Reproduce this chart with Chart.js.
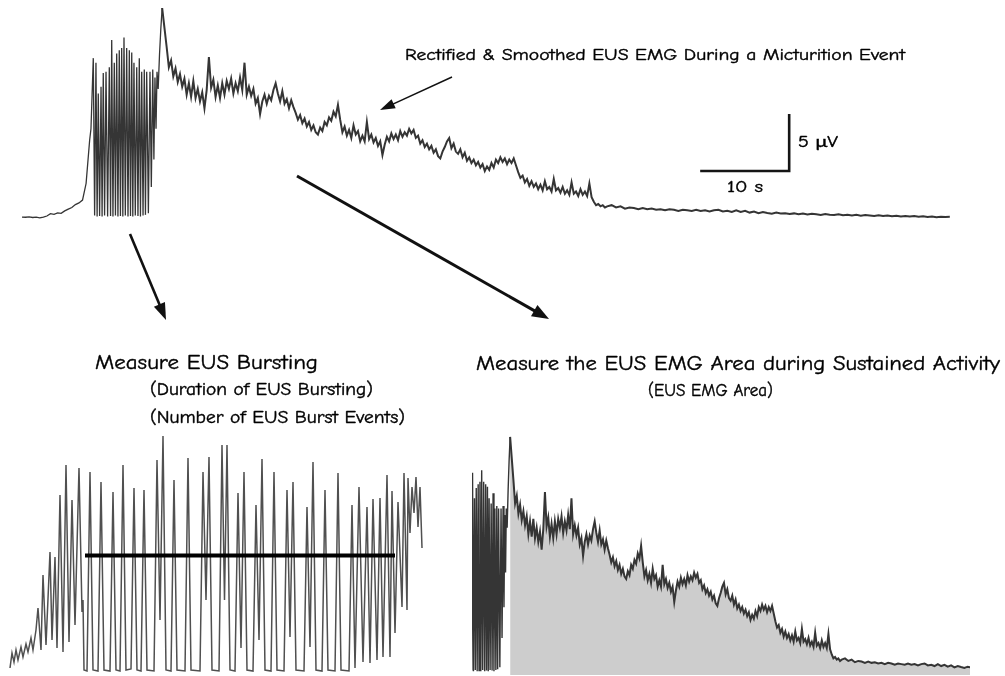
<!DOCTYPE html>
<html>
<head>
<meta charset="utf-8">
<title>EUS EMG during a micturition event</title>
<script src="https://cdn.jsdelivr.net/npm/chart.js@4/dist/chart.umd.min.js"></script>
<style>
  html, body { margin: 0; padding: 0; background: #ffffff; }
  #stage { position: relative; width: 1005px; height: 676px; overflow: hidden; background: #ffffff; }
  #stage canvas, #stage svg { position: absolute; left: 0; top: 0; }
  .lbl {
    position: absolute; white-space: nowrap; line-height: 1; color: #000;
    font-family: "Comic Sans MS", "Comic Neue", "Lato", sans-serif;
    -webkit-text-stroke: 0.4px #000;
    transform-origin: left center;
  }
</style>
</head>
<body>
<div id="stage">
  <canvas id="topTrace" width="1005" height="676"></canvas>
  <canvas id="burstTrace" width="1005" height="676"></canvas>
  <canvas id="areaTrace" width="1005" height="676"></canvas>
  <svg id="arrows" width="1005" height="676"></svg>
</div>
<script>
// ---- Rectified & smoothed EUS EMG, whole micturition event (time in s, amplitude in µV) ----

// quiet baseline and onset, sampled every 0.4 s from t = 0
const onsetStart = 0;
const onsetStep = 0.4;
const onsetUv = [0.26, 0.24, 0.28, 0.22, 0.25, 0.18, 0.26, 0.35, 0.55, 0.5,
                 0.62, 0.58, 0.8, 0.95, 1.1, 1.35, 1.5, 1.75, 3.2, 7.0];

// bursting phase: alternating burst peaks and inter-burst troughs
const burstTimes = [7.75, 8.01, 8.16, 8.31, 8.44, 8.57, 8.72, 8.88, 9.00, 9.13,
                    9.28, 9.44, 9.62, 9.81, 9.95, 10.08, 10.22, 10.37, 10.50, 10.64,
                    10.78, 10.93, 11.06, 11.20, 11.33, 11.46, 11.61, 11.76, 11.91, 12.06,
                    12.19, 12.33, 12.45, 12.58, 12.73, 12.89, 13.03, 13.18, 13.31, 13.45,
                    13.60, 13.74, 13.87, 14.01, 14.20, 14.38, 14.53, 14.69, 14.82, 14.94,
                    15.06, 15.17, 15.30, 15.45, 15.60];
const burstUv = [8.0, 14.2, 0.4, 13.8, 0.3, 11.1, 0.35, 11.7, 0.3, 12.9,
                 0.4, 13.0, 0.3, 13.4, 0.35, 15.8, 0.3, 13.8, 0.4, 14.6,
                 0.3, 14.9, 0.35, 15.1, 0.3, 16.0, 0.4, 15.1, 0.3, 14.9,
                 0.35, 14.7, 0.3, 13.8, 0.4, 13.4, 0.35, 14.2, 0.3, 13.0,
                 0.4, 13.2, 0.45, 13.0, 0.6, 13.0, 2.9, 13.2, 5.3, 12.5,
                 8.0, 13.0, 11.5, 14.5, 16.8];

// sustained activity after the bursting phase, sampled every 0.25 s
const sustainedStart = 15.75;
const sustainedStep = 0.25;
const sustainedUv = [
  18.6, 16.9, 15.2, 13.4, 14.0, 12.6, 13.3, 12.1, 12.8, 11.7,
  12.4, 11.0, 12.0, 10.8, 12.2, 10.7, 11.5, 10.4, 11.2, 9.8,
  11.4, 14.3, 11.6, 12.3, 10.8, 11.8, 10.7, 12.0, 11.0, 12.2,
  11.5, 12.4, 11.1, 12.0, 11.3, 12.5, 11.4, 13.8, 11.0, 11.7,
  10.9, 11.5, 10.2, 10.7, 9.3, 10.4, 11.0, 10.2, 10.9, 10.5,
  11.4, 12.0, 11.1, 10.4, 11.3, 10.2, 10.6, 9.8, 10.5, 9.9,
  9.4, 8.8, 9.2, 8.5, 8.9, 8.2, 8.6, 7.9, 8.3, 7.7,
  7.5, 8.1, 7.8, 8.6, 8.3, 9.0, 8.7, 9.5, 9.1, 10.1,
  8.8, 7.7, 8.2, 7.4, 7.9, 7.2, 8.3, 7.5, 7.8, 6.9,
  7.4, 6.9, 8.6, 7.1, 7.5, 6.8, 7.2, 6.5, 6.9, 5.7,
  6.6, 7.3, 6.9, 7.6, 7.1, 7.5, 7.0, 7.8, 7.3, 7.7,
  7.4, 8.0, 7.6, 7.9, 7.2, 7.4, 6.7, 7.0, 6.4, 6.7,
  6.2, 6.5, 5.9, 6.2, 5.6, 5.4, 6.0, 6.4, 6.9, 7.2,
  6.3, 6.7, 6.0, 5.8, 6.2, 5.5, 5.9, 5.2, 5.5, 5.0,
  5.3, 4.8, 5.1, 4.6, 4.9, 4.3, 4.7, 4.4, 5.0, 4.6,
  5.3, 5.0, 5.5, 5.1, 5.4, 4.9, 5.3, 5.0, 5.4, 4.8,
  4.2, 3.7, 3.9, 3.3, 3.6, 3.0, 3.4, 2.9, 3.2, 2.7,
  3.1, 2.6, 3.4, 2.7, 2.9, 2.5, 3.6, 2.6, 2.8, 2.4,
  2.9, 2.3, 2.6, 2.2, 3.3, 2.3, 2.5, 2.1, 2.7, 2.2,
  2.5, 2.1, 3.2, 2.0, 1.6, 1.3, 1.4, 1.2, 1.3, 1.1
];

// return towards baseline, sampled every 0.5 s
const tailStart = 65.75;
const tailStep = 0.5;
const tailUv = [
  1.2, 1.3, 1.1, 1.2, 1.0, 1.1, 1.05, 0.95, 1.05, 0.95,
  1.0, 0.9, 0.95, 0.85, 0.95, 0.9, 0.8, 0.9, 0.85, 0.8,
  0.9, 0.8, 0.85, 0.75, 0.85, 0.9, 0.75, 0.8, 0.7, 0.85,
  0.7, 0.8, 0.65, 0.75, 0.6, 0.7, 0.62, 0.55, 0.65, 0.58,
  0.6, 0.52, 0.58, 0.5, 0.56, 0.48, 0.55, 0.5, 0.45, 0.52,
  0.47, 0.43, 0.5, 0.42, 0.46, 0.4, 0.45, 0.38, 0.44, 0.4,
  0.36, 0.42, 0.35, 0.4, 0.33, 0.38, 0.31, 0.36, 0.3, 0.34,
  0.28, 0.32, 0.26, 0.3, 0.25, 0.29, 0.26, 0.28
];

// calibration bar of the top trace
const scaleBarSeconds = 10;
const scaleBarMicrovolts = 5;
const scaleBarCorner = { t: 86.2, uv: 4.3 };

// ---- Expanded view of the bursting phase (time in s from the start of the view, µV) ----
const burstViewTimes = [
  0.04, 0.08, 0.12, 0.16, 0.20, 0.26, 0.30, 0.36, 0.40, 0.46,
  0.50, 0.56, 0.60, 0.66, 0.70, 0.76, 0.84, 0.88, 0.94, 0.98,
  1.04, 1.10, 1.16, 1.22, 1.28, 1.34, 1.42, 1.48, 1.50, 1.52,
  1.58, 1.64, 1.70, 1.80, 1.86, 1.92, 2.04, 2.10, 2.16, 2.24,
  2.30, 2.36, 2.46, 2.52, 2.58, 2.66, 2.72, 2.78, 2.92, 2.98,
  3.04, 3.10, 3.16, 3.26, 3.32, 3.38, 3.54, 3.60, 3.66, 3.84,
  3.90, 3.96, 4.02, 4.08, 4.22, 4.28, 4.33, 4.38, 4.44, 4.54,
  4.60, 4.66, 4.72, 4.78, 4.90, 4.96, 5.02, 5.08, 5.14, 5.26,
  5.32, 5.38, 5.52, 5.58, 5.64, 5.70, 5.76, 5.92, 5.98, 6.04,
  6.10, 6.16, 6.28, 6.34, 6.40, 6.54, 6.60, 6.66, 6.82, 6.88,
  6.94, 7.02, 7.10, 7.18, 7.24, 7.30, 7.38, 7.44, 7.50, 7.58,
  7.64, 7.68, 7.74, 7.80, 7.88, 7.92, 7.98, 8.00, 8.04, 8.08,
  8.12, 8.16, 8.20, 8.24, 8.28
];
const burstViewUv = [
  0.40, 1.60, 0.88, 1.84, 1.04, 2.08, 1.28, 2.32, 1.68, 2.80,
  1.84, 3.44, 5.20, 1.84, 7.84, 2.24, 9.68, 2.64, 9.28, 2.00,
  14.24, 1.68, 16.64, 2.48, 13.84, 3.84, 16.40, 4.88, 5.84, 0.24,
  0.16, 16.08, 0.24, 0.16, 15.28, 0.24, 0.16, 14.48, 0.24, 0.16,
  16.64, 0.24, 0.32, 14.80, 0.24, 0.16, 14.64, 0.24, 0.16, 17.04,
  4.24, 18.96, 0.24, 0.16, 15.44, 0.24, 0.16, 17.20, 0.24, 0.16,
  16.08, 5.84, 17.28, 0.24, 0.16, 18.24, 5.84, 18.24, 0.24, 0.16,
  14.40, 2.00, 16.08, 0.24, 0.16, 13.44, 2.64, 17.12, 0.24, 0.16,
  16.08, 0.24, 0.16, 14.64, 2.88, 15.28, 0.24, 0.16, 13.28, 2.08,
  16.88, 0.24, 0.16, 14.64, 0.24, 0.16, 16.00, 0.24, 0.16, 13.44,
  0.40, 14.88, 0.88, 13.28, 0.80, 13.92, 1.04, 14.00, 1.28, 15.84,
  1.28, 14.56, 3.20, 13.68, 5.28, 16.00, 5.04, 15.60, 11.20, 14.88,
  12.80, 15.68, 11.68, 14.88, 10.00
];
// measured duration of EUS bursting (start, end) and the level it is marked at
const burstDurationWindow = [1.54, 7.74];
const burstDurationLevel = 9.4;

// ---- helpers that turn the arrays into {x, y} points ----
function pairs(times, values) {
  const n = Math.min(times.length, values.length);
  const out = [];
  for (let i = 0; i < n; i++) out.push({ x: times[i], y: values[i] });
  return out;
}
function sampled(start, step, values) {
  return values.map((v, i) => ({ x: +(start + i * step).toFixed(3), y: v }));
}

const sustainedPoints = sampled(sustainedStart, sustainedStep, sustainedUv)
  .concat(sampled(tailStart, tailStep, tailUv));
// onset + bursting, joined to the first sustained sample so the trace is continuous
const burstingPoints = sampled(onsetStart, onsetStep, onsetUv)
  .concat(pairs(burstTimes, burstUv))
  .concat([sustainedPoints[0]]);

// ---- chart factory: one full-stage canvas per panel, plot box set by padding ----
const W = 1005, H = 676;
function traceChart(id, box, xr, yr, datasets) {
  return new Chart(document.getElementById(id), {
    type: 'line',
    data: { datasets },
    options: {
      responsive: false,
      animation: false,
      devicePixelRatio: 1,
      events: [],
      layout: { padding: { left: box.left, right: W - box.right, top: box.top, bottom: H - box.bottom } },
      plugins: { legend: { display: false }, tooltip: { enabled: false } },
      elements: { point: { radius: 0 }, line: { tension: 0 } },
      scales: {
        x: { type: 'linear', min: xr[0], max: xr[1], display: false },
        y: { type: 'linear', min: yr[0], max: yr[1], display: false }
      }
    }
  });
}

const traceColor = '#353535';

// whole event with calibration bar
traceChart('topTrace', { left: 22, right: 950, top: 4, bottom: 220 }, [0, 104.27], [0, 18.95], [
  { data: burstingPoints, borderColor: traceColor, borderWidth: 1.3, fill: false },
  { data: sustainedPoints, borderColor: traceColor, borderWidth: 2, fill: false },
  { data: [
      { x: scaleBarCorner.t - scaleBarSeconds, y: scaleBarCorner.uv },
      { x: scaleBarCorner.t, y: scaleBarCorner.uv },
      { x: scaleBarCorner.t, y: scaleBarCorner.uv + scaleBarMicrovolts }
    ], borderColor: '#151515', borderWidth: 2.6, fill: false, borderCapStyle: 'butt', borderJoinStyle: 'miter' }
]);

// expanded bursting phase with its duration marker
traceChart('burstTrace', { left: 8, right: 423, top: 430, bottom: 673 }, [0, 8.3], [0, 19.44], [
  { data: [
      { x: burstDurationWindow[0], y: burstDurationLevel },
      { x: burstDurationWindow[1], y: burstDurationLevel }
    ], borderColor: '#000000', borderWidth: 4, fill: false, borderCapStyle: 'butt' },
  { data: pairs(burstViewTimes, burstViewUv), borderColor: '#505050', borderWidth: 1.5, fill: false }
]);

// sustained activity with the integrated area shaded
traceChart('areaTrace', { left: 472, right: 970, top: 430, bottom: 675 }, [10.0, 85.1], [0, 19.14], [
  { data: burstingPoints, borderColor: traceColor, borderWidth: 1.4, fill: false },
  { data: sustainedPoints, borderColor: traceColor, borderWidth: 2, fill: false },
  { data: sustainedPoints, borderWidth: 0, borderColor: 'rgba(0,0,0,0)', backgroundColor: '#cdcdcd', fill: 'origin' }
]);

// ---- annotation arrows ----
const svg = document.getElementById('arrows');
const NS = 'http://www.w3.org/2000/svg';
function arrow(x1, y1, x2, y2, width, headLen, headHalf) {
  const dx = x2 - x1, dy = y2 - y1, len = Math.hypot(dx, dy);
  const ux = dx / len, uy = dy / len;
  const bx = x2 - ux * headLen, by = y2 - uy * headLen;
  const line = document.createElementNS(NS, 'line');
  line.setAttribute('x1', x1); line.setAttribute('y1', y1);
  line.setAttribute('x2', bx + ux * 2); line.setAttribute('y2', by + uy * 2);
  line.setAttribute('stroke', '#111'); line.setAttribute('stroke-width', width);
  svg.appendChild(line);
  const head = document.createElementNS(NS, 'polygon');
  const px = -uy * headHalf, py = ux * headHalf;
  head.setAttribute('points', `${x2},${y2} ${bx + px},${by + py} ${bx - px},${by - py}`);
  head.setAttribute('fill', '#111');
  svg.appendChild(head);
}
arrow(452, 77, 380, 110, 1.5, 15, 5);
arrow(297, 176, 549, 319, 3, 17, 6.5);
arrow(130, 234, 166, 320, 2.6, 17, 6);

// ---- text labels, each stretched to its set width ----
const labels = [
  { text: 'Rectified & Smoothed EUS EMG During a Micturition Event', x: 405, cy: 55, w: 500, size: 16 },
  { text: '5 \u03bcV', x: 798, cy: 142, w: 40, size: 16 },
  { text: '10 s', x: 727, cy: 187, w: 36, size: 16 },
  { text: 'Measure EUS Bursting', x: 95, cy: 362, w: 223, size: 21 },
  { text: '(Duration of EUS Bursting)', x: 150, cy: 389, w: 223, size: 17 },
  { text: '(Number of EUS Burst Events)', x: 150, cy: 417, w: 255, size: 17 },
  { text: 'Measure the EUS EMG Area during Sustained Activity', x: 476, cy: 363, w: 524, size: 21 },
  { text: '(EUS EMG Area)', x: 648, cy: 390, w: 125, size: 17 }
];
const stage = document.getElementById('stage');
labels.forEach(l => {
  const d = document.createElement('div');
  d.className = 'lbl';
  d.textContent = l.text;
  d.style.fontSize = l.size + 'px';
  stage.appendChild(d);
  const r = d.getBoundingClientRect();
  d.style.left = l.x + 'px';
  d.style.top = (l.cy - r.height / 2) + 'px';
  d.style.transform = `scaleX(${(l.w / r.width).toFixed(4)})`;
});
</script>
</body>
</html>
